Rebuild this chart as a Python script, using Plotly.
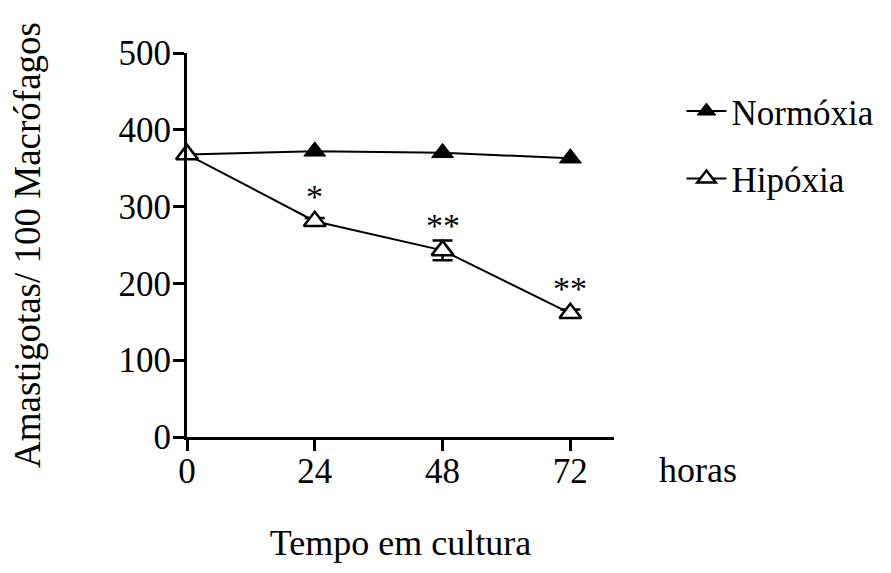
import plotly.graph_objects as go

hours = [0, 24, 48, 72]
normoxia = [368, 372, 370, 363]
hipoxia = [368, 281, 243, 161]
hipoxia_err = [0, 4, 13, 5]
stars = ["", "*", "**", "**"]
y_ticks = [0, 100, 200, 300, 400, 500]
x_ticks = [0, 24, 48, 72]

FONT = "Liberation Serif"
fig = go.Figure()
fig.add_trace(go.Scatter(
    x=hours, y=normoxia, name="Normóxia", mode="lines+markers",
    line=dict(color="black", width=2),
    marker=dict(symbol="triangle-up", size=19, color="black",
                line=dict(color="black", width=1)),
    cliponaxis=False, legendgroup="n"))
fig.add_trace(go.Scatter(
    x=hours, y=hipoxia, name="Hipóxia", mode="lines+markers",
    line=dict(color="black", width=2),
    marker=dict(symbol="triangle-up", size=19, color="white",
                line=dict(color="black", width=2.5)),
    error_y=dict(type="data", array=hipoxia_err, visible=True,
                 color="black", thickness=2.5, width=10),
    cliponaxis=False, legendgroup="h"))

for xv, yv, s in zip(hours, hipoxia, stars):
    if s:
        fig.add_annotation(x=xv, y=yv, text=s, showarrow=False,
                           yshift=25, font=dict(family=FONT, size=34, color="black"))

fig.add_annotation(xref="paper", yref="paper", x=1.196, y=-0.086, text="horas",
                   xanchor="center", yanchor="middle",
                   showarrow=False, font=dict(family=FONT, size=36, color="black"))

fig.update_layout(
    width=891, height=573,
    margin=dict(l=187, r=275, t=53, b=136),
    paper_bgcolor="white", plot_bgcolor="white",
    font=dict(family=FONT, size=34, color="black"),
    showlegend=True,
    legend=dict(x=1.158, y=0.925, xanchor="left", yanchor="top",
                traceorder="grouped", tracegroupgap=19, itemwidth=40,
                font=dict(family=FONT, size=35, color="black"),
                bgcolor="rgba(0,0,0,0)"),
    xaxis=dict(range=[0, 80.2], tickvals=x_ticks, ticks="outside", ticklen=11,
               tickwidth=3, tickcolor="black", showline=True, linewidth=3,
               linecolor="black", showgrid=False, zeroline=False,
               ticklabelstandoff=-10,
               tickfont=dict(family=FONT, size=35),
               title=dict(text="Tempo em cultura", standoff=40,
                          font=dict(family=FONT, size=36))),
    yaxis=dict(range=[0, 500], tickvals=y_ticks, ticks="outside", ticklen=11,
               tickwidth=3, tickcolor="black", showline=True, linewidth=3,
               linecolor="black", showgrid=False, zeroline=False,
               ticklabelstandoff=-5,
               tickfont=dict(family=FONT, size=35),
               title=dict(text="Amastigotas/ 100 Macrófagos", standoff=67,
                          font=dict(family=FONT, size=37))),
)
fig.write_html("out.html")
